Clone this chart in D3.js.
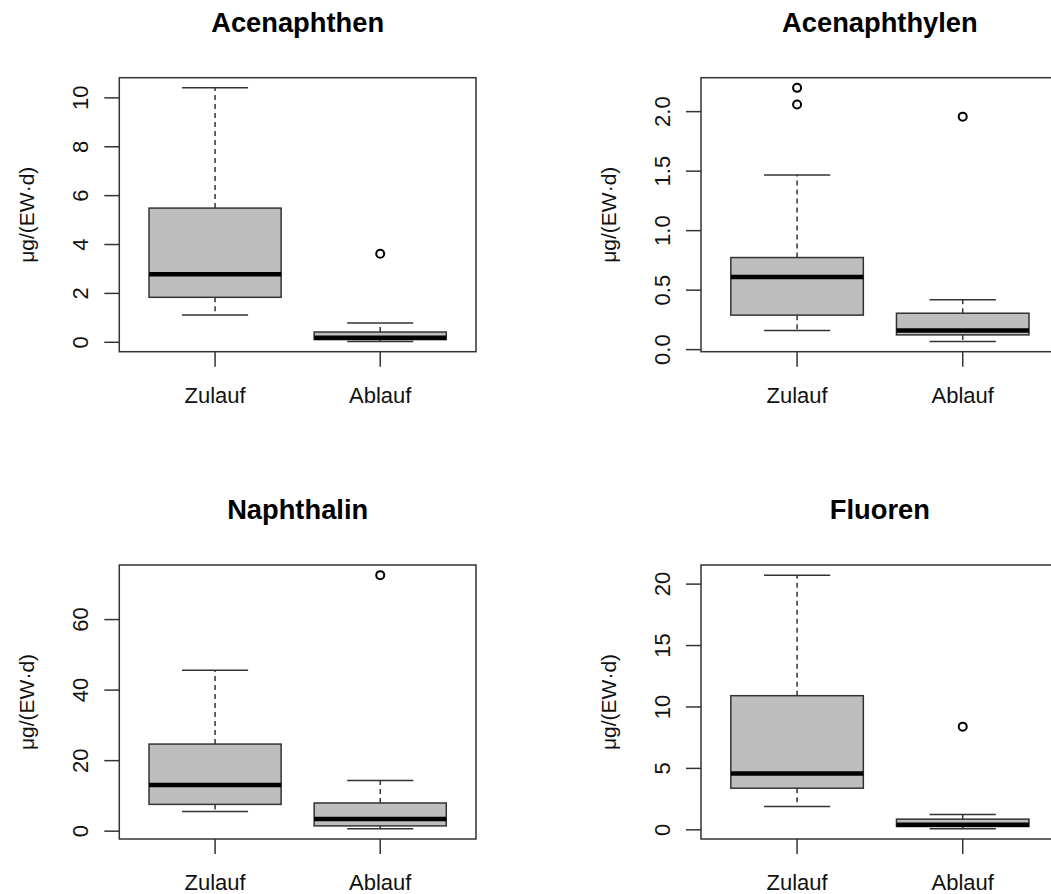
<!DOCTYPE html>
<html>
  <head>
    <meta charset="utf-8" />
    <title>PAK Boxplots</title>
    <script src="https://cdn.jsdelivr.net/npm/d3@7"></script>
    <style>
      html,
      body {
        margin: 0;
        padding: 0;
        background: #fff;
      }
      svg {
        display: block;
        font-family: "Liberation Sans", Arial, sans-serif;
      }
    </style>
  </head>
  <body>
    <svg width="1051" height="894" id="mainsvg"></svg>
    <script>
      // groups on the x axis
      const groups = ["Zulauf", "Ablauf"];
      const titles = ["Acenaphthen", "Acenaphthylen", "Naphthalin", "Fluoren"];
      const yLabel = "μg/(EW·d)";

      // box stats per group: [lower whisker, Q1, median, Q3, upper whisker]
      const acenaphthenStats = [[1.12, 1.84, 2.78, 5.49, 10.41], [0.03, 0.11, 0.19, 0.42, 0.79]];
      const acenaphthenOut = [[], [3.62]];
      const acenaphthylenStats = [[0.16, 0.29, 0.61, 0.774, 1.468], [0.068, 0.124, 0.16, 0.306, 0.42]];
      const acenaphthylenOut = [[2.06, 2.2], [1.958]];
      const naphthalinStats = [[5.6, 7.6, 13.1, 24.7, 45.6], [0.66, 1.5, 3.42, 8.0, 14.4]];
      const naphthalinOut = [[], [72.6]];
      const fluorenStats = [[1.9, 3.39, 4.58, 10.92, 20.73], [0.08, 0.27, 0.41, 0.87, 1.25]];
      const fluorenOut = [[], [8.4]];

      // tick labels
      const acenaphthenTicks = [0, 2, 4, 6, 8, 10];
      const acenaphthylenTicks = [0, 0.5, 1, 1.5, 2];
      const naphthalinTicks = [0, 20, 40, 60];
      const fluorenTicks = [0, 5, 10, 15, 20];

      const svg = d3.select("#mainsvg");
      const lineCol = "#333";

      // plot regions (the right column runs past the picture edge)
      const panels = [
        { x0: 119.3, x1: 476, y0: 77.7, y1: 351.7, stats: acenaphthenStats, out: acenaphthenOut, ticks: acenaphthenTicks, fmt: d3.format("d") },
        { x0: 701, x1: 1058.8, y0: 77.7, y1: 351.7, stats: acenaphthylenStats, out: acenaphthylenOut, ticks: acenaphthylenTicks, fmt: d3.format(".1f") },
        { x0: 119.3, x1: 476, y0: 565, y1: 839, stats: naphthalinStats, out: naphthalinOut, ticks: naphthalinTicks, fmt: d3.format("d") },
        { x0: 701, x1: 1058.8, y0: 565, y1: 839, stats: fluorenStats, out: fluorenOut, ticks: fluorenTicks, fmt: d3.format("d") },
      ];

      panels.forEach((p, pi) => {
        const g = svg.append("g");
        const all = p.stats.flat().concat(p.out.flat());
        const lo = d3.min(all), hi = d3.max(all);
        const pad = (hi - lo) * 0.04;
        const y = d3.scaleLinear().domain([lo - pad, hi + pad]).range([p.y1, p.y0]);
        const x = d3.scaleLinear().domain([0.42, 2.58]).range([p.x0, p.x1]);
        const bw = x(1.4) - x(1); // half box width
        const sw = bw / 2; // half staple width

        // title
        g.append("text")
          .attr("x", (p.x0 + p.x1) / 2)
          .attr("y", p.y0 - 46)
          .attr("text-anchor", "middle")
          .attr("font-size", 27.3)
          .attr("font-weight", "bold")
          .attr("fill", "#000")
          .text(titles[pi]);

        // y axis label
        const yl = p.x0 - 85;
        g.append("text")
          .attr("transform", `translate(${yl},${(p.y0 + p.y1) / 2}) rotate(-90)`)
          .attr("text-anchor", "middle")
          .attr("font-size", 21)
          .attr("fill", "#111")
          .text(yLabel);

        // y ticks
        const yAxis = g.append("g").attr("class", "yaxis");
        yAxis.selectAll("line")
          .data(p.ticks)
          .join("line")
          .attr("x1", p.x0 - 15)
          .attr("x2", p.x0)
          .attr("y1", (d) => y(d))
          .attr("y2", (d) => y(d))
          .attr("stroke", lineCol)
          .attr("stroke-width", 1.5);
        yAxis.selectAll("text")
          .data(p.ticks)
          .join("text")
          .attr("transform", (d) => `translate(${p.x0 - 31},${y(d)}) rotate(-90)`)
          .attr("text-anchor", "middle")
          .attr("font-size", 22)
          .attr("fill", "#111")
          .text((d) => p.fmt(d));

        // x ticks
        const xAxis = g.append("g").attr("class", "xaxis");
        xAxis.selectAll("line")
          .data(groups)
          .join("line")
          .attr("x1", (d, i) => x(i + 1))
          .attr("x2", (d, i) => x(i + 1))
          .attr("y1", p.y1)
          .attr("y2", p.y1 + 15)
          .attr("stroke", lineCol)
          .attr("stroke-width", 1.5);
        xAxis.selectAll("text")
          .data(groups)
          .join("text")
          .attr("x", (d, i) => x(i + 1))
          .attr("y", p.y1 + 51)
          .attr("text-anchor", "middle")
          .attr("font-size", 22)
          .attr("fill", "#111")
          .text((d) => d);

        // boxes
        p.stats.forEach((s, i) => {
          const cx = x(i + 1);
          const b = g.append("g");
          // whiskers
          b.append("line")
            .attr("x1", cx).attr("x2", cx)
            .attr("y1", y(s[3])).attr("y2", y(s[4]))
            .attr("stroke", lineCol).attr("stroke-width", 1.5)
            .attr("stroke-dasharray", "5,4");
          b.append("line")
            .attr("x1", cx).attr("x2", cx)
            .attr("y1", y(s[1])).attr("y2", y(s[0]))
            .attr("stroke", lineCol).attr("stroke-width", 1.5)
            .attr("stroke-dasharray", "5,4");
          // staples
          [s[0], s[4]].forEach((v) => {
            b.append("line")
              .attr("x1", cx - sw).attr("x2", cx + sw)
              .attr("y1", y(v)).attr("y2", y(v))
              .attr("stroke", lineCol).attr("stroke-width", 1.5);
          });
          // box
          b.append("rect")
            .attr("x", cx - bw)
            .attr("y", y(s[3]))
            .attr("width", 2 * bw)
            .attr("height", y(s[1]) - y(s[3]))
            .attr("fill", "#bebebe")
            .attr("stroke", lineCol)
            .attr("stroke-width", 1.5);
          // median
          b.append("line")
            .attr("x1", cx - bw).attr("x2", cx + bw)
            .attr("y1", y(s[2])).attr("y2", y(s[2]))
            .attr("stroke", "#000").attr("stroke-width", 4.5);
          // outliers
          b.selectAll("circle")
            .data(p.out[i])
            .join("circle")
            .attr("cx", cx)
            .attr("cy", (d) => y(d))
            .attr("r", 4)
            .attr("fill", "none")
            .attr("stroke", "#000")
            .attr("stroke-width", 2);
        });

        // frame
        g.append("rect")
          .attr("x", p.x0)
          .attr("y", p.y0)
          .attr("width", p.x1 - p.x0)
          .attr("height", p.y1 - p.y0)
          .attr("fill", "none")
          .attr("stroke", lineCol)
          .attr("stroke-width", 1.5);
      });
    </script>
  </body>
</html>
